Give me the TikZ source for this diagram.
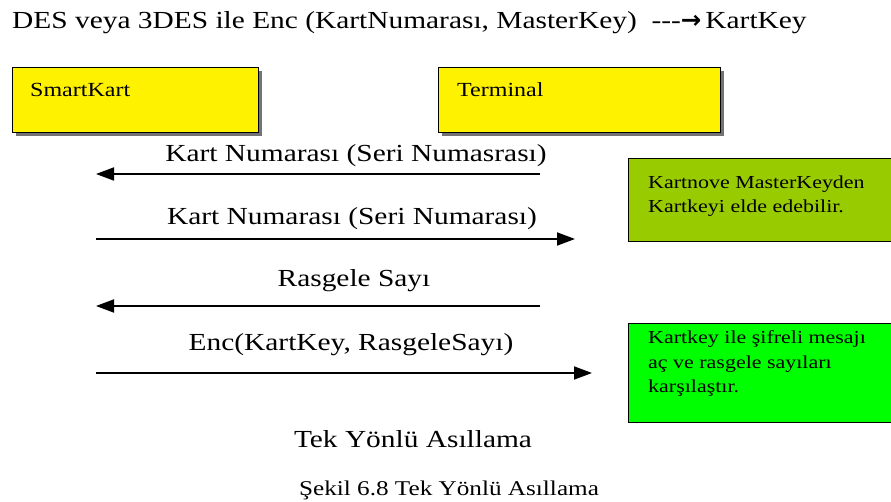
\documentclass[tikz,border=0pt]{standalone}
\usepackage{fontspec}
\setmainfont[FakeStretch=1.2]{Liberation Serif}
\newfontfamily\arrowfont{DejaVu Sans}
\usepackage{xcolor}
\usepackage{tikz}
\usetikzlibrary{arrows.meta, positioning, shadows}
\definecolor{notelime}{RGB}{153,204,0}
\definecolor{notegreen}{RGB}{0,255,0}
\tikzset{
    party/.style={rectangle, draw=black, line width=1.2pt, fill=yellow, anchor=north west, inner sep=0pt, minimum height=65pt, drop shadow={shadow xshift=3pt, shadow yshift=-3pt, fill=gray!90!black, opacity=1}},
    note/.style={rectangle, draw=black, line width=1.2pt, anchor=north west, inner sep=0pt, minimum width=264pt},
    msg/.style={-{Triangle[length=18pt, width=13pt]}, line width=1.8pt},
    lbl/.style={anchor=base, inner sep=0pt, font=\fontsize{24.5}{28}\selectfont},
    boxtext/.style={anchor=base west, inner sep=0pt, font=\fontsize{20}{24}\selectfont},
    notetext/.style={anchor=north west, inner sep=0pt, align=left, font=\fontsize{18.3}{24.5}\selectfont}
}

\begin{document}
\begin{tikzpicture}[x=1pt, y=-1pt]
    \useasboundingbox (0,0) rectangle (891,502);
    \node[anchor=base west, inner sep=0pt, font=\fontsize{24.5}{28}\selectfont] (title) at (12,29)
        {DES veya 3DES ile Enc (KartNumarası, MasterKey)\ \ -{}-{}-{\arrowfont\bfseries →}\,KartKey};

    % Parties
    \node[party, minimum width=246pt] (smart) at (12,67) {};
    \node[party, minimum width=282pt] (term) at (438,67) {};
    \node[boxtext] (smartname) at ([xshift=18pt, yshift=-30pt]smart.north west) {SmartKart};
    \node[boxtext] (termname) at ([xshift=19pt, yshift=-30pt]term.north west) {Terminal};

    % Message end points
    \coordinate (s1) at (96,174);  \coordinate (t1) at (540,174);
    \coordinate (s2) at (96,239);  \coordinate (t2) at (575,239);
    \coordinate (s3) at (96,306);  \coordinate (t3) at (540,306);
    \coordinate (s4) at (96,373);  \coordinate (t4) at (592,373);

    % Messages
    \draw[msg] (t1) -- (s1);
    \draw[msg] (s2) -- (t2);
    \draw[msg] (t3) -- (s3);
    \draw[msg] (s4) -- (t4);
    \node[lbl] (m1) at (356,162) {Kart Numarası (Seri Numasrası)};
    \node[lbl] (m2) at (352,225) {Kart Numarası (Seri Numarası)};
    \node[lbl] (m3) at (354,287) {Rasgele Sayı};
    \node[lbl] (m4) at (351,350) {Enc(KartKey, RasgeleSayı)};

    % Notes on the terminal side
    \node[note, fill=notelime, minimum height=83pt] (note1) at (628,158) {};
    \node[notetext] (note1txt) at ([xshift=20pt, yshift=-17.5pt]note1.north west)
        {Kartnove MasterKeyden\\Kartkeyi elde edebilir.};
    \node[note, fill=notegreen, minimum height=99pt] (note2) at (628,323) {};
    \node[notetext] (note2txt) at ([xshift=20pt, yshift=-7.5pt]note2.north west)
        {Kartkey ile şifreli mesajı\\aç ve rasgele sayıları\\karşılaştır.};

    \node[lbl] (proto) at (413,447) {Tek Yönlü Asıllama};
    \node[lbl, font=\fontsize{21}{25}\selectfont] (caption) at (449,495) {Şekil 6.8 Tek Yönlü Asıllama};
\end{tikzpicture}
\end{document}
